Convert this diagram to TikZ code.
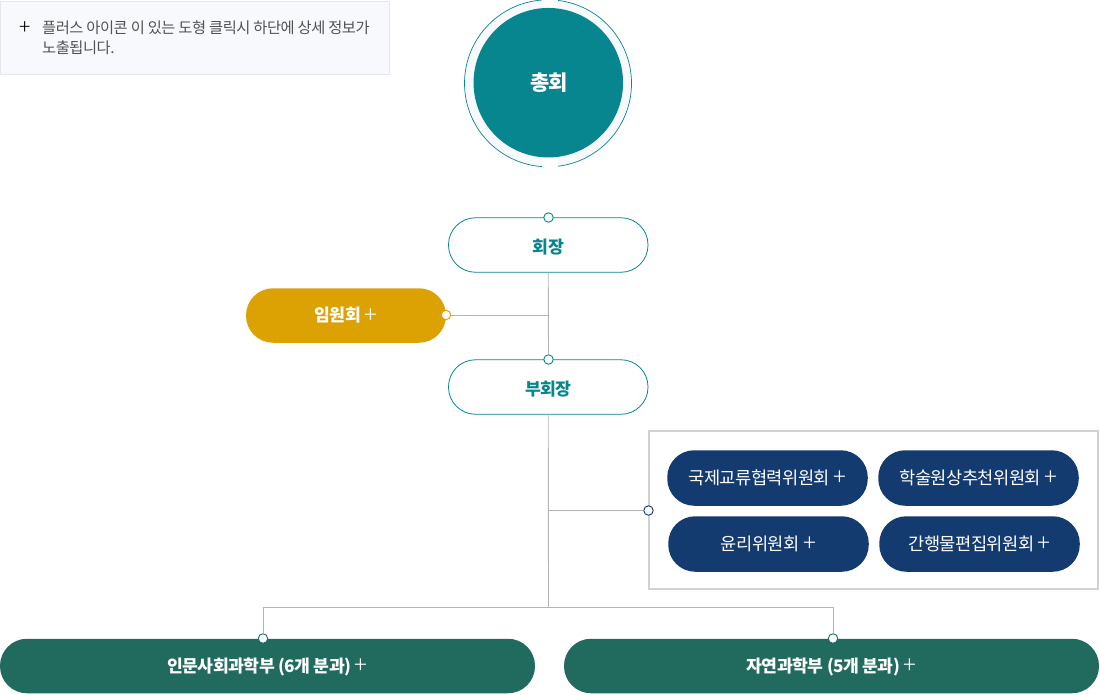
\documentclass[tikz,border=0pt]{standalone}
\usepackage{fontspec}
\setmainfont{Noto Sans CJK KR}[LetterSpace=-3]
\newfontfamily\krlight{Noto Sans CJK KR Light}
\definecolor{teal}{HTML}{07868F}
\definecolor{gold}{HTML}{DCA204}
\definecolor{navy}{HTML}{143B70}
\definecolor{forest}{HTML}{216A5E}
\definecolor{ringfill}{HTML}{F7F9FD}
\definecolor{notebd}{HTML}{E4E7EE}
\definecolor{panelbd}{HTML}{D2D2D2}
\definecolor{wire}{HTML}{B4B4B4}
\newcommand{\plusmark}{\raisebox{-1.8pt}{\krlight\mdseries\fontsize{24}{24}\selectfont +}}
\newcommand{\lab}[2]{\raisebox{#1}[0pt][0pt]{#2}}
\tikzset{
  pill/.style={rounded corners=27pt,minimum height=54.5pt,inner sep=0pt,font=\fontsize{17.2}{20}\selectfont\bfseries},
  outlinepill/.style={pill,draw=teal,fill=white,line width=0.8pt,text=teal,minimum width=199.5pt},
  goldpill/.style={pill,fill=gold,text=white,minimum width=200pt},
  navypill/.style={rounded corners=27pt,minimum height=55.5pt,inner sep=0pt,fill=navy,text=white,minimum width=200.5pt,font=\fontsize{17.6}{20}\selectfont},
  greenpill/.style={pill,fill=forest,text=white,minimum width=535pt},
  dot/.style={circle,inner sep=0pt,minimum size=9.5pt,fill=ringfill,line width=0.9pt},
  wireline/.style={draw=wire,line width=0.9pt},
}
\begin{document}
\begin{tikzpicture}[x=1pt,y=-1pt]
\useasboundingbox (0,0) rectangle (1100,694);
% note
\node[draw=notebd,fill=ringfill,line width=1pt,minimum width=388.8pt,minimum height=73pt,inner sep=0pt,anchor=north west] (note) at (0,1) {};
\node[anchor=center,text=black] (noteplus) at (25.5,28) {\krlight\fontsize{21}{21}\selectfont +};
\node[anchor=north west,inner sep=0pt,align=left,text=black!68,font=\fontsize{15.3}{19.6}\selectfont] (notetext) at (42,20.5) {플러스 아이콘 이 있는 도형 클릭시 하단에 상세 정보가\\노출됩니다.};
% general assembly
\node[circle,draw=teal,fill=ringfill,line width=0.7pt,minimum size=167pt,inner sep=0pt] (outer) at (548,83.3) {};
\fill[white] (541.7,-1) rectangle (558,9);
\fill[white] (541.7,156) rectangle (558,168);
\node[circle,fill=teal,minimum size=149.5pt,inner sep=0pt] (assembly) at (548.3,82.7) {};
\node[inner sep=0pt,text=white,font=\fontsize{21}{24}\selectfont\bfseries] (assemblylabel) at (549.2,82.7) {총회};
% nodes
\node[outlinepill] (chair) at (548.25,245) {\lab{-8pt}{회장}};
\node[outlinepill] (vice) at (548.25,387) {\lab{-8pt}{부회장}};
\node[goldpill] (exec) at (346,315.5) {\lab{-6pt}{임원회 \plusmark}};
\node[draw=panelbd,fill=white,line width=1.6pt,minimum width=449pt,minimum height=158pt,inner sep=0pt] (panel) at (873.5,510.2) {};
\node[navypill] (c1) at (767.5,478) {\lab{-6pt}{국제교류협력위원회 \plusmark}};
\node[navypill] (c2) at (978.5,478) {\lab{-6pt}{학술원상추천위원회 \plusmark}};
\node[navypill] (c3) at (768.5,544) {\lab{-6pt}{윤리위원회 \plusmark}};
\node[navypill] (c4) at (979.5,544) {\lab{-6pt}{간행물편집위원회 \plusmark}};
\node[greenpill] (hum) at (267.5,666) {\lab{-6pt}{인문사회과학부 (6개 분과) \plusmark}};
\node[greenpill] (sci) at (831.5,666) {\lab{-6pt}{자연과학부 (5개 분과) \plusmark}};
% dots
\node[dot,draw=teal] (dchair) at (548.5,217.5) {};
\node[dot,draw=teal] (dvice) at (548.5,359.5) {};
\node[dot,draw=gold] (dexec) at (446,315) {};
\node[dot,draw=navy] (dpanel) at (648.5,510.5) {};
\node[dot,draw=forest] (dhum) at (263,638.5) {};
\node[dot,draw=forest] (dsci) at (833,638.5) {};
% connectors
\coordinate (jexec) at (548.5,315);
\coordinate (jpanel) at (548.5,510.5);
\coordinate (jbus) at (548.5,607.5);
\coordinate (jl) at (263,607.5);
\coordinate (jr) at (833,607.5);
\draw[wireline] (chair.south) -- (dvice);
\draw[wireline] (dexec) -- (jexec);
\draw[wireline] (vice.south) -- (jbus);
\draw[wireline] (jpanel) -- (dpanel);
\draw[wireline] (dhum) -- (jl) -- (jr) -- (dsci);
\end{tikzpicture}
\end{document}
